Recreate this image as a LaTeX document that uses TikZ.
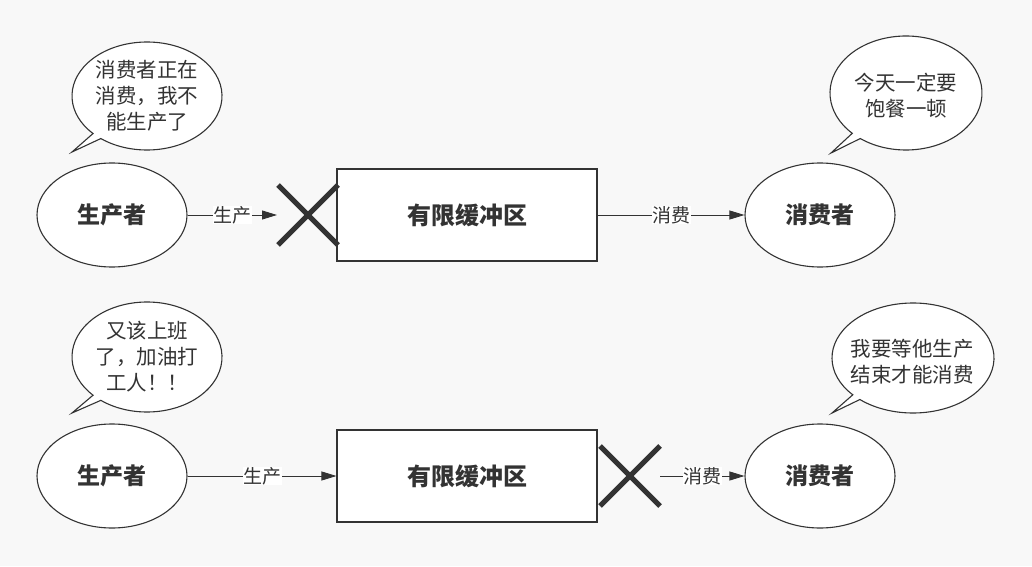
\documentclass[tikz,border=0pt]{standalone}
\usepackage{fontspec}
\setmainfont{Noto Sans CJK SC}
\usepackage{xcolor}
\usetikzlibrary{shapes.geometric, arrows.meta, positioning}
\definecolor{ink}{HTML}{333333}
\definecolor{paper}{HTML}{F8F8F8}

\begin{document}
\begin{tikzpicture}[x=1pt, y=1pt,
  role/.style={ellipse, draw=ink, fill=white, line width=1.1pt,
    minimum width=150pt, minimum height=104pt, inner sep=0pt,
    text=ink, font=\bfseries\fontsize{23}{26}\selectfont},
  buffer/.style={rectangle, draw=ink, fill=white, line width=1.1pt,
    minimum width=260pt, minimum height=92pt,
    text=ink, font=\bfseries\fontsize{24}{26}\selectfont},
  flow/.style={draw=ink, line width=0.9pt, -{Triangle[length=15pt, width=9pt]}},
  flowlabel/.style={fill=white, inner sep=0.5pt, text=ink,
    font=\fontsize{19}{20}\selectfont},
  cross/.style={draw=ink, line width=5pt},
  bubble/.style={draw=ink, fill=white, line width=1.1pt},
  thought/.style={align=center, text=ink, font=\fontsize{20.5}{26}\selectfont}]

  % background and margins
  \fill[paper] (0,0) rectangle (1032,566);
  \useasboundingbox (0,0) rectangle (1032,566);

  %---- top row: producer blocked ----
  \node[role]   (prod1) at (112,351) {生产者};
  \node[buffer] (buf1)  at (467,351) {有限缓冲区};
  \node[role]   (cons1) at (820,351) {消费者};
  \coordinate (stop1) at (277,351);

  \draw[flow] (prod1) -- node[flowlabel] {生产} (stop1);
  \draw[flow] (buf1) -- node[flowlabel] {消费} (cons1);

  % cross before the buffer
  \draw[cross] (278,381) -- (338,321);
  \draw[cross] (278,321) -- (338,381);

  % speech bubbles
  \draw[bubble] (147,470) ++(232:75 and 54)
    arc[start angle=232, end angle=584, x radius=75, y radius=54]
    -- (72,414) -- cycle;
  \node[thought] (say1) at (147,470) {消费者正在\\消费，我不\\能生产了};

  \draw[bubble] (906,473) ++(233:76 and 57)
    arc[start angle=233, end angle=585, x radius=76, y radius=57]
    -- (831,413) -- cycle;
  \node[thought] (say2) at (906,470) {今天一定要\\饱餐一顿};

  %---- bottom row: consumer blocked ----
  \node[role]   (prod2) at (112,90) {生产者};
  \node[buffer] (buf2)  at (467,90) {有限缓冲区};
  \node[role]   (cons2) at (820,90) {消费者};
  \coordinate (start2) at (660,90);

  \draw[flow] (prod2) -- node[flowlabel] {生产} (buf2);
  \draw[flow] (start2) -- node[flowlabel] {消费} (cons2);

  % cross after the buffer
  \draw[cross] (600,120) -- (660,60);
  \draw[cross] (600,60) -- (660,120);

  % speech bubbles
  \draw[bubble] (147,209) ++(232:75 and 55)
    arc[start angle=232, end angle=584, x radius=75, y radius=55]
    -- (72,153) -- cycle;
  \node[thought] (say3) at (147,209) {又该上班\\了，加油打\\工人！！};

  \draw[bubble] (913,208) ++(229:81 and 55)
    arc[start angle=229, end angle=582, x radius=81, y radius=55]
    -- (832,153) -- cycle;
  \node[thought] (say4) at (912,204) {我要等他生产\\结束才能消费};
\end{tikzpicture}
\end{document}
